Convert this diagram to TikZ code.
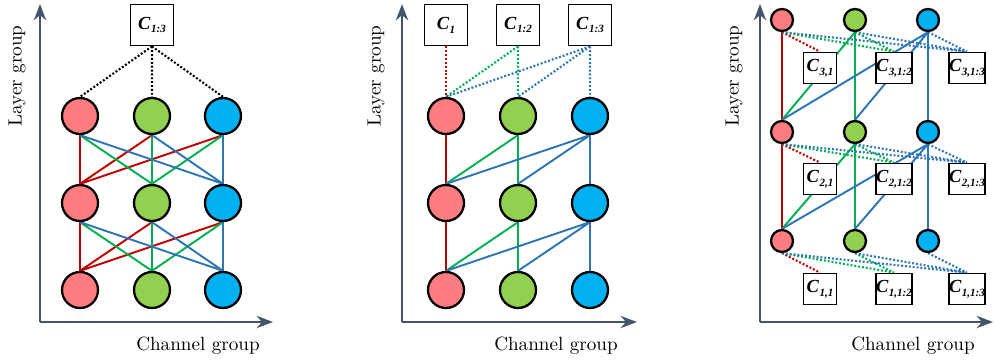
\documentclass[tikz,border=0pt]{standalone}
\usepackage{tikz}
\usepackage{fontspec}
\usetikzlibrary{arrows.meta}
\usetikzlibrary{backgrounds}
\newfontfamily\boxfont{Liberation Serif}
\definecolor{nodered}{RGB}{255,124,128}
\definecolor{nodegreen}{RGB}{146,208,80}
\definecolor{nodeblue}{RGB}{0,176,240}
\definecolor{linered}{RGB}{192,0,0}
\definecolor{linegreen}{RGB}{0,176,80}
\definecolor{lineblue}{RGB}{46,117,182}
\definecolor{axiscol}{RGB}{68,84,106}
\newcommand{\cgrp}[1]{{\boxfont\bfseries\itshape C\kern0.3pt\raisebox{-0.45ex}{\fontsize{6.3}{7}\selectfont #1}}}

\begin{document}
\begin{tikzpicture}[>=Stealth, x=0.02cm, y=-0.02cm,
    font=\fontsize{10.9}{13}\selectfont,
    grp/.style={circle, draw, line width=1.3pt, minimum size=0.72cm, inner sep=0pt},
    sgrp/.style={grp, minimum size=0.44cm},
    cbox/.style={draw, fill=white, line width=1pt, minimum width=0.86cm, minimum height=0.82cm, inner sep=0pt, font=\fontsize{10.5}{12}\selectfont},
    scbox/.style={cbox, minimum width=0.66cm, minimum height=0.62cm},
    axis/.style={->, draw=axiscol, line width=1.4pt},
    conn/.style={line width=1.1pt},
    dots/.style={line width=1.2pt, dash pattern=on 1.1pt off 1.1pt}]

    \useasboundingbox (0,0) rectangle (994,362);

    % left: all groups shared
    \coordinate (aO) at (40,322);
    \coordinate (aX) at (273,322);
    \coordinate (aY) at (40,4);
    \draw[axis] (aO) -- (aX);
    \draw[axis] (aO) -- (aY);
    \node[rotate=90] (aLy) at (17,76) {Layer group};
    \node (aLx) at (198,346) {Channel group};

    \node[grp, fill=nodered] (aR1) at (80,290) {};
    \node[grp, fill=nodegreen] (aG1) at (152,290) {};
    \node[grp, fill=nodeblue] (aB1) at (223,290) {};
    \node[grp, fill=nodered] (aR2) at (80,203) {};
    \node[grp, fill=nodegreen] (aG2) at (152,203) {};
    \node[grp, fill=nodeblue] (aB2) at (223,203) {};
    \node[grp, fill=nodered] (aR3) at (80,116) {};
    \node[grp, fill=nodegreen] (aG3) at (152,116) {};
    \node[grp, fill=nodeblue] (aB3) at (223,116) {};
    \node[cbox] (aC) at (152,25) {\cgrp{1:3}};

    \begin{scope}[on background layer]
    \draw[conn, linered] (aR2.south) -- (aR1.north) (aG2.south) -- (aR1.north) (aB2.south) -- (aR1.north) (aR3.south) -- (aR2.north) (aG3.south) -- (aR2.north) (aB3.south) -- (aR2.north);
    \draw[conn, linegreen] (aR2.south) -- (aG1.north) (aG2.south) -- (aG1.north) (aB2.south) -- (aG1.north) (aR3.south) -- (aG2.north) (aG3.south) -- (aG2.north) (aB3.south) -- (aG2.north);
    \draw[conn, lineblue] (aR2.south) -- (aB1.north) (aG2.south) -- (aB1.north) (aB2.south) -- (aB1.north) (aR3.south) -- (aB2.north) (aG3.south) -- (aB2.north) (aB3.south) -- (aB2.north);
    \draw[dots] (aC.south) -- (aR3.north) (aC.south) -- (aG3.north) (aC.south) -- (aB3.north);
    \end{scope}

    % middle: one set per channel group
    \coordinate (bO) at (402,322);
    \coordinate (bX) at (637,322);
    \coordinate (bY) at (402,4);
    \draw[axis] (bO) -- (bX);
    \draw[axis] (bO) -- (bY);
    \node[rotate=90] (bLy) at (376,76) {Layer group};
    \node (bLx) at (556,346) {Channel group};

    \node[grp, fill=nodered] (bR1) at (446,290) {};
    \node[grp, fill=nodegreen] (bG1) at (518,290) {};
    \node[grp, fill=nodeblue] (bB1) at (590,290) {};
    \node[grp, fill=nodered] (bR2) at (446,203) {};
    \node[grp, fill=nodegreen] (bG2) at (518,203) {};
    \node[grp, fill=nodeblue] (bB2) at (590,203) {};
    \node[grp, fill=nodered] (bR3) at (446,116) {};
    \node[grp, fill=nodegreen] (bG3) at (518,116) {};
    \node[grp, fill=nodeblue] (bB3) at (590,116) {};
    \node[cbox] (bC1) at (446,25) {\cgrp{1}};
    \node[cbox] (bC12) at (518,25) {\cgrp{1:2}};
    \node[cbox] (bC13) at (590,25) {\cgrp{1:3}};

    \begin{scope}[on background layer]
    \draw[conn, linered] (bR3.south) -- (bR2.north) (bR2.south) -- (bR1.north);
    \draw[conn, linegreen] (bG3.south) -- (bR2.north) (bG3.south) -- (bG2.north) (bG2.south) -- (bR1.north) (bG2.south) -- (bG1.north);
    \draw[conn, lineblue] (bB3.south) -- (bR2.north) (bB3.south) -- (bG2.north) (bB3.south) -- (bB2.north) (bB2.south) -- (bR1.north) (bB2.south) -- (bG1.north) (bB2.south) -- (bB1.north);
    \draw[dots, linered] (bC1.south) -- (bR3.north);
    \draw[dots, linegreen] (bC12.south) -- (bR3.north) (bC12.south) -- (bG3.north);
    \draw[dots, lineblue] (bC13.south) -- (bR3.north) (bC13.south) -- (bG3.north) (bC13.south) -- (bB3.north);
    \end{scope}

    % right: one set per layer and channel group
    \coordinate (cO) at (760,322);
    \coordinate (cX) at (993,322);
    \coordinate (cY) at (760,4);
    \draw[axis] (cO) -- (cX);
    \draw[axis] (cO) -- (cY);
    \node[rotate=90] (cLy) at (734,76) {Layer group};
    \node (cLx) at (913,346) {Channel group};

    \node[sgrp, fill=nodered] (cR1) at (782,241) {};
    \node[sgrp, fill=nodegreen] (cG1) at (855,241) {};
    \node[sgrp, fill=nodeblue] (cB1) at (928,241) {};
    \node[sgrp, fill=nodered] (cR2) at (782,132) {};
    \node[sgrp, fill=nodegreen] (cG2) at (855,132) {};
    \node[sgrp, fill=nodeblue] (cB2) at (928,132) {};
    \node[sgrp, fill=nodered] (cR3) at (782,20) {};
    \node[sgrp, fill=nodegreen] (cG3) at (855,20) {};
    \node[sgrp, fill=nodeblue] (cB3) at (928,20) {};
    \node[scbox] (cC11) at (820,289) {\cgrp{1,1}};
    \node[scbox] (cC112) at (894,289) {\cgrp{1,1:2}};
    \node[scbox] (cC113) at (967,289) {\cgrp{1,1:3}};
    \node[scbox] (cC21) at (820,179) {\cgrp{2,1}};
    \node[scbox] (cC212) at (894,179) {\cgrp{2,1:2}};
    \node[scbox] (cC213) at (967,179) {\cgrp{2,1:3}};
    \node[scbox] (cC31) at (820,68) {\cgrp{3,1}};
    \node[scbox] (cC312) at (894,68) {\cgrp{3,1:2}};
    \node[scbox] (cC313) at (967,68) {\cgrp{3,1:3}};

    \begin{scope}[on background layer]
    \draw[conn, linered] (cR3.south) -- (cR2.north) (cR2.south) -- (cR1.north);
    \draw[conn, linegreen] (cG3.south) -- (cR2.north) (cG3.south) -- (cG2.north) (cG2.south) -- (cR1.north) (cG2.south) -- (cG1.north);
    \draw[conn, lineblue] (cB3.south) -- (cR2.north) (cB3.south) -- (cG2.north) (cB3.south) -- (cB2.north) (cB2.south) -- (cR1.north) (cB2.south) -- (cG1.north) (cB2.south) -- (cB1.north);
    \draw[dots, linered] (cR1.south) -- (cC11.north) (cR2.south) -- (cC21.north) (cR3.south) -- (cC31.north);
    \draw[dots, linegreen] (cR1.south) -- (cC112.north) (cG1.south) -- (cC112.north) (cR2.south) -- (cC212.north) (cG2.south) -- (cC212.north) (cR3.south) -- (cC312.north) (cG3.south) -- (cC312.north);
    \draw[dots, lineblue] (cR1.south) -- (cC113.north) (cG1.south) -- (cC113.north) (cB1.south) -- (cC113.north) (cR2.south) -- (cC213.north) (cG2.south) -- (cC213.north) (cB2.south) -- (cC213.north) (cR3.south) -- (cC313.north) (cG3.south) -- (cC313.north) (cB3.south) -- (cC313.north);
    \end{scope}

\end{tikzpicture}
\end{document}
